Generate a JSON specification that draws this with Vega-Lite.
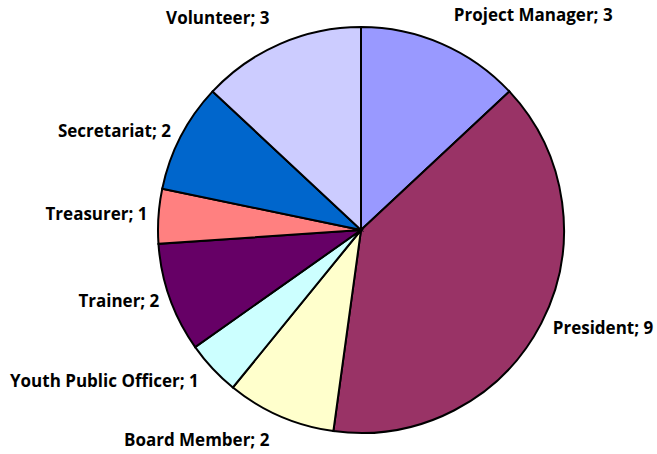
{
  "$schema": "https://vega.github.io/schema/vega-lite/v6.json",
  "width": 592,
  "height": 448,
  "autosize": "none",
  "padding": {"left": 65, "top": 6, "right": 0, "bottom": 0},
  "background": "white",
  "view": {"stroke": null},
  "data": {
    "values": [
      {"role": "Project Manager", "count": 3, "order": 1},
      {"role": "President", "count": 9, "order": 2},
      {"role": "Board Member", "count": 2, "order": 3},
      {"role": "Youth Public Officer", "count": 1, "order": 4},
      {"role": "Trainer", "count": 2, "order": 5},
      {"role": "Treasurer", "count": 1, "order": 6},
      {"role": "Secretariat", "count": 2, "order": 7},
      {"role": "Volunteer", "count": 3, "order": 8}
    ]
  },
  "transform": [{"calculate": "datum.role + '; ' + datum.count", "as": "label"}],
  "encoding": {
    "theta": {"field": "count", "type": "quantitative", "stack": true},
    "order": {"field": "order", "type": "quantitative"}
  },
  "layer": [
    {
      "mark": {"type": "arc", "outerRadius": 203, "stroke": "black", "strokeWidth": 2},
      "encoding": {
        "color": {
          "field": "role",
          "type": "nominal",
          "scale": {
            "domain": ["Project Manager", "President", "Board Member", "Youth Public Officer", "Trainer", "Treasurer", "Secretariat", "Volunteer"],
            "range": ["#9999FF", "#993366", "#FFFFCC", "#CCFFFF", "#660066", "#FF8080", "#0066CC", "#CCCCFF"]
          },
          "legend": null
        }
      }
    },
    {
      "mark": {"type": "text", "align": "left", "baseline": "middle", "radius": 233, "font": "Open Sans", "fontWeight": "bold", "fontSize": 17, "color": "black"},
      "encoding": {
        "text": {"condition": {"test": "datum.role === 'Project Manager'", "field": "label", "type": "nominal"}, "value": ""}
      }
    },
    {
      "mark": {"type": "text", "align": "left", "baseline": "middle", "radius": 216, "font": "Open Sans", "fontWeight": "bold", "fontSize": 17, "color": "black"},
      "encoding": {
        "text": {"condition": {"test": "datum.role === 'President'", "field": "label", "type": "nominal"}, "value": ""}
      }
    },
    {
      "mark": {"type": "text", "align": "right", "baseline": "middle", "radius": 230, "font": "Open Sans", "fontWeight": "bold", "fontSize": 17, "color": "black"},
      "encoding": {
        "text": {"condition": {"test": "indexof(['Volunteer','Board Member'], datum.role) >= 0", "field": "label", "type": "nominal"}, "value": ""}
      }
    },
    {
      "mark": {"type": "text", "align": "right", "baseline": "middle", "radius": 222, "font": "Open Sans", "fontWeight": "bold", "fontSize": 17, "color": "black"},
      "encoding": {
        "text": {"condition": {"test": "datum.role === 'Youth Public Officer'", "field": "label", "type": "nominal"}, "value": ""}
      }
    },
    {
      "mark": {"type": "text", "align": "right", "baseline": "middle", "radius": 214, "font": "Open Sans", "fontWeight": "bold", "fontSize": 17, "color": "black"},
      "encoding": {
        "text": {"condition": {"test": "indexof(['Trainer','Treasurer','Secretariat'], datum.role) >= 0", "field": "label", "type": "nominal"}, "value": ""}
      }
    }
  ]
}
